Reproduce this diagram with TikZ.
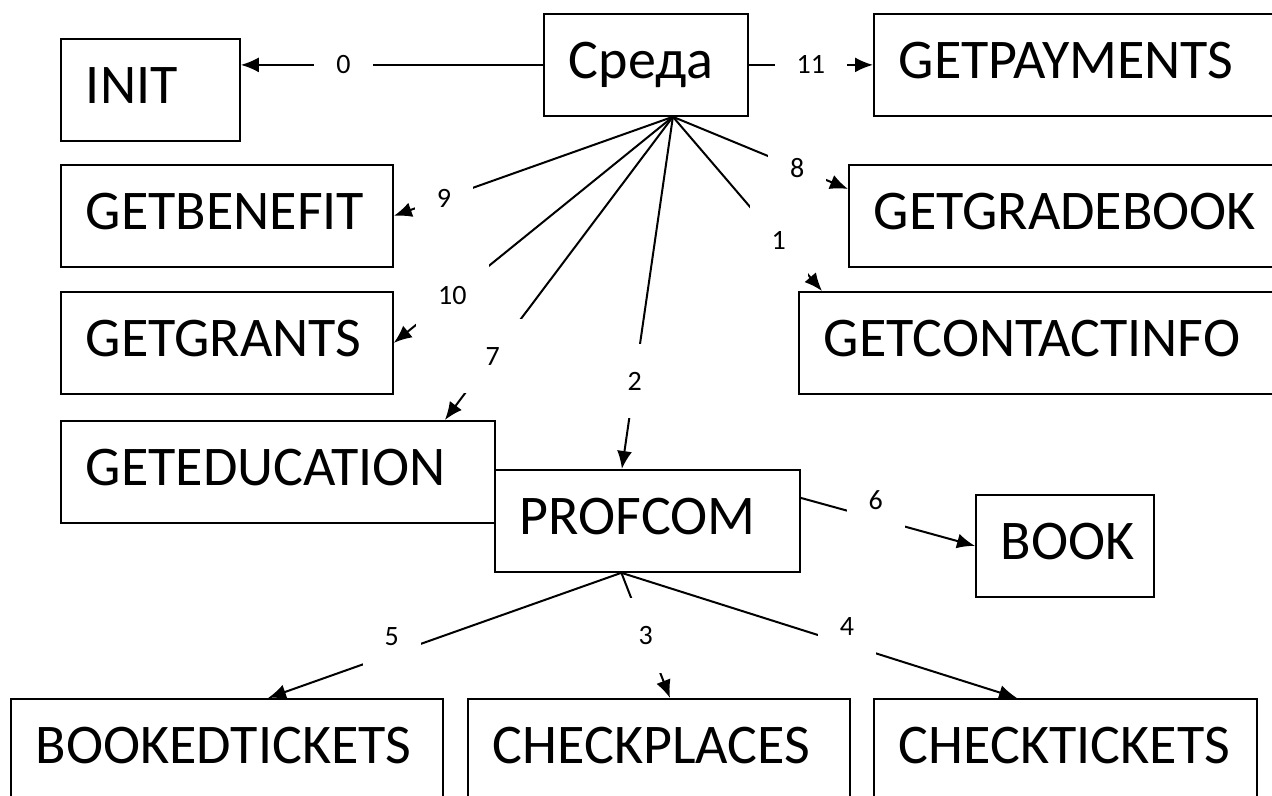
\documentclass[tikz,border=0pt]{standalone}
\usepackage{fontspec}
\setmainfont{Carlito}
\usetikzlibrary{arrows.meta}

\begin{document}
\begin{tikzpicture}
		[x=0.5pt,y=-0.5pt,
		box/.style={draw,fill=white,line width=0.9pt,anchor=north west,minimum height=51pt,inner xsep=12.5pt,align=left,text height=18pt,text depth=4pt,font=\fontsize{28}{30}\selectfont}, % every box: text on the left, coordinates are the top left corner
		num/.style={fill=white,inner xsep=11pt,inner ysep=14pt,font=\fontsize{14}{16}\selectfont},
		raised/.style={inner ysep=3pt,text height=9pt,text depth=18pt},
		arr/.style={line width=1pt,-{Latex[length=9pt,width=7.5pt]}}]
		
		\clip (0,0) rectangle (1272,796);
		\fill[white] (0,0) rectangle (1272,796);
		
		\node[box,text width=64.5pt] (init) at (60,38) {INIT};
		\node[box,text width=77pt] (sreda) at (543,13) {Среда};
		\node[box,text width=188.5pt] (getpay) at (873,13) {GETPAYMENTS};
		\node[box,text width=141pt] (getbenefit) at (60,164) {GETBENEFIT};
		\node[box,text width=201pt] (getgrade) at (848,164) {GETGRADEBOOK};
		\node[box,text width=141pt] (getgrants) at (60,291) {GETGRANTS};
		\node[box,text width=226pt] (getcontact) at (798,291) {GETCONTACTINFO};
		\node[box,text width=192pt] (geteducation) at (60,420) {GETEDUCATION};
		\node[box,text width=127.5pt] (profcom) at (494,469) {PROFCOM};
		\node[box,text width=64pt] (book) at (975,494) {BOOK};
		\node[box,text width=191pt] (bookedtickets) at (10,698) {BOOKEDTICKETS};
		\node[box,text width=166pt] (checkplaces) at (467,698) {CHECKPLACES};
		\node[box,text width=166.5pt] (checktickets) at (873,698) {CHECKTICKETS};
		
		\coordinate (top) at ([xshift=13.5pt]sreda.south);
		\coordinate (bot) at ([xshift=-13pt]profcom.south);
		
		\draw[arr] (sreda.west) -- node[num,pos=0.66] {0} (sreda.west -| init.east);
		\draw[arr] (sreda.east) -- node[num] {11} (getpay.west);
		\draw[arr] (top) -- node[num,pos=0.82] {9} (getbenefit.east);
		\draw[arr] (top) -- node[num,pos=0.79] {10} (getgrants.east);
		\draw[arr] (top) -- node[num,pos=0.79] {7} ([xshift=83.5pt]geteducation.north);
		\draw[arr] (top) -- node[num,pos=0.75] {2} ([xshift=-12.75pt]profcom.north);
		\draw[arr] (top) -- node[num,pos=0.71] {1} ([xshift=12pt]getcontact.north west);
		\draw[arr] (top) -- node[num,pos=0.71] {8} ([yshift=-12.5pt]getgrade.north west);
		\draw[arr] ([yshift=11.5pt]profcom.east) -- node[num,raised,pos=0.43] {6} (book.west);
		\draw[arr] (bot) -- node[num,raised,pos=0.65] {5} ([xshift=129pt]bookedtickets.north west);
		\draw[arr] (bot) -- node[num,pos=0.5] {3} ([xshift=101.5pt]checkplaces.north west);
		\draw[arr] (bot) -- node[num,raised,pos=0.57] {4} ([xshift=72pt]checktickets.north west);
		
	\end{tikzpicture}
\end{document}
